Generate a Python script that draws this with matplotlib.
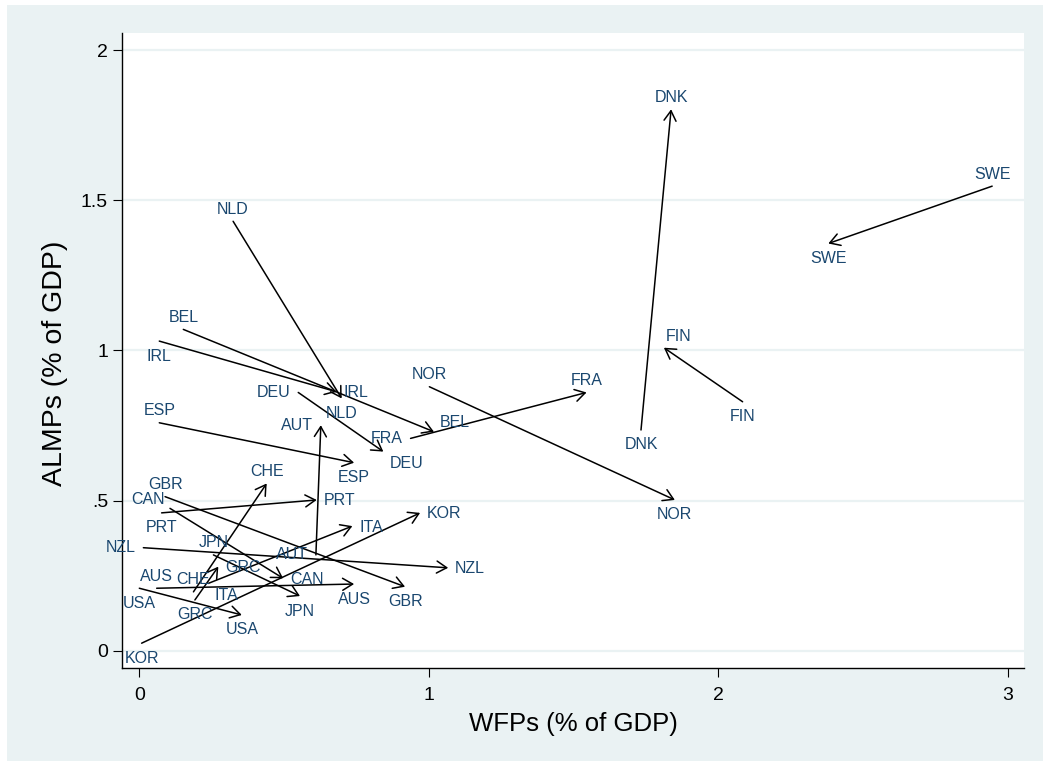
import matplotlib
matplotlib.use("Agg")
import matplotlib.pyplot as plt
from matplotlib.patches import Rectangle

plt.rcParams['font.family'] = ['Liberation Sans', 'DejaVu Sans']

# Spending on welfare programmes (WFPs) and active labour market programmes (ALMPs),
# both as % of GDP: arrow from the earlier year to the later year.
countries = ["NLD", "BEL", "IRL", "DEU", "ESP", "AUT", "FRA", "NOR", "DNK", "FIN", "SWE",
             "GBR", "PRT", "CAN", "JPN", "NZL", "AUS", "USA", "CHE", "GRC", "ITA", "KOR"]
wfp_start = [0.324, 0.152, 0.069, 0.549, 0.069, 0.610, 0.937, 1.002, 1.733, 2.084, 2.946,
             0.089, 0.077, 0.106, 0.256, 0.014, 0.060, 0.000, 0.187, 0.192, 0.238, 0.008]
almp_start = [1.430, 1.070, 1.031, 0.860, 0.759, 0.319, 0.707, 0.879, 0.735, 0.829, 1.547,
              0.513, 0.459, 0.474, 0.319, 0.343, 0.208, 0.208, 0.196, 0.169, 0.224, 0.025]
wfp_end = [0.699, 1.018, 0.682, 0.843, 0.742, 0.627, 1.545, 1.850, 1.837, 1.812, 2.380,
           0.918, 0.613, 0.497, 0.555, 1.067, 0.742, 0.354, 0.440, 0.273, 0.736, 0.970]
almp_end = [0.840, 0.729, 0.862, 0.663, 0.626, 0.751, 0.860, 0.502, 1.803, 1.009, 1.356,
            0.213, 0.502, 0.241, 0.182, 0.276, 0.222, 0.119, 0.557, 0.280, 0.415, 0.459]

# clock positions of the country labels at the start and at the end of each arrow
start_clock = [12, 12, 6, 9, 12, 9, 9, 12, 6, 6, 12,
               12, 6, 10, 12, 9, 12, 6, 12, 6, 4, 6]
end_clock = [6, 2, 3, 4, 6, 9, 12, 6, 12, 1, 6,
             6, 3, 3, 6, 3, 6, 6, 12, 3, 3, 3]

x_ticks = [0, 1, 2, 3]
y_ticks = [0, 0.5, 1, 1.5, 2]
y_ticklabels = ["0", ".5", "1", "1.5", "2"]

# offset in pixels and alignment for each clock position
CLOCK = {
    12: (0, 12, 'center'),
    6: (0, -15, 'center'),
    3: (7, -1, 'left'),
    9: (-8, 0, 'right'),
    1: (2, 11, 'left'),
    2: (6, 9, 'left'),
    4: (6, -12, 'left'),
    10: (-5, 9, 'right'),
}

BG = '#EAF2F3'
NAVY = '#1A476F'

W, H = 1043, 761
fig = plt.figure(figsize=(W / 100, H / 100), dpi=100, facecolor=BG)
# thin white frame along the top and left edges
fig.patches.append(Rectangle((0, 0), 7 / W, 1, transform=fig.transFigure,
                             facecolor='white', edgecolor='none', zorder=-1))
fig.patches.append(Rectangle((0, 1 - 5 / H), 1, 5 / H, transform=fig.transFigure,
                             facecolor='white', edgecolor='none', zorder=-1))

ax = fig.add_axes([122 / W, 1 - 668 / H, (1024 - 122) / W, (668 - 33) / H])
ax.set_facecolor('white')
ax.set_xlim(-0.0598, 3.056)
ax.set_ylim(-0.0576, 2.057)

for s in ['top', 'right']:
    ax.spines[s].set_visible(False)
for s in ['left', 'bottom']:
    ax.spines[s].set_linewidth(1.0)
    ax.spines[s].set_color('black')

ax.set_xticks(x_ticks)
ax.set_xticklabels([str(t) for t in x_ticks])
ax.set_yticks(y_ticks)
ax.set_yticklabels(y_ticklabels)
ax.tick_params(axis='x', length=6.5, width=0.8, pad=7, labelsize=14)
ax.tick_params(axis='y', length=6.5, width=0.8, pad=3.5, labelsize=14)
ax.yaxis.grid(True, color=BG, linewidth=1.6)
ax.xaxis.grid(False)
ax.set_axisbelow(True)

ax.set_xlabel("WFPs (% of GDP)", fontsize=18.5, labelpad=6)
ax.set_ylabel("ALMPs (% of GDP)", fontsize=20.5)
ax.yaxis.set_label_coords(-54 / 902, 0.48)

arrow_style = dict(arrowstyle='->,head_length=0.4,head_width=0.24', mutation_scale=18,
                   lw=1.1, color='black', shrinkA=0, shrinkB=0)

for i, c in enumerate(countries):
    x0, y0, x1, y1 = wfp_start[i], almp_start[i], wfp_end[i], almp_end[i]
    ax.annotate('', xy=(x1, y1), xytext=(x0, y0), arrowprops=arrow_style, zorder=3)
    for (px, py, clk) in ((x0, y0, start_clock[i]), (x1, y1, end_clock[i])):
        dx, dy, ha = CLOCK[clk]
        ax.annotate(c, xy=(px, py), xytext=(dx, dy), textcoords='offset pixels',
                    ha=ha, va='center', fontsize=11.5, color=NAVY, zorder=4)

fig.savefig('out.png', dpi=100, facecolor=BG)
